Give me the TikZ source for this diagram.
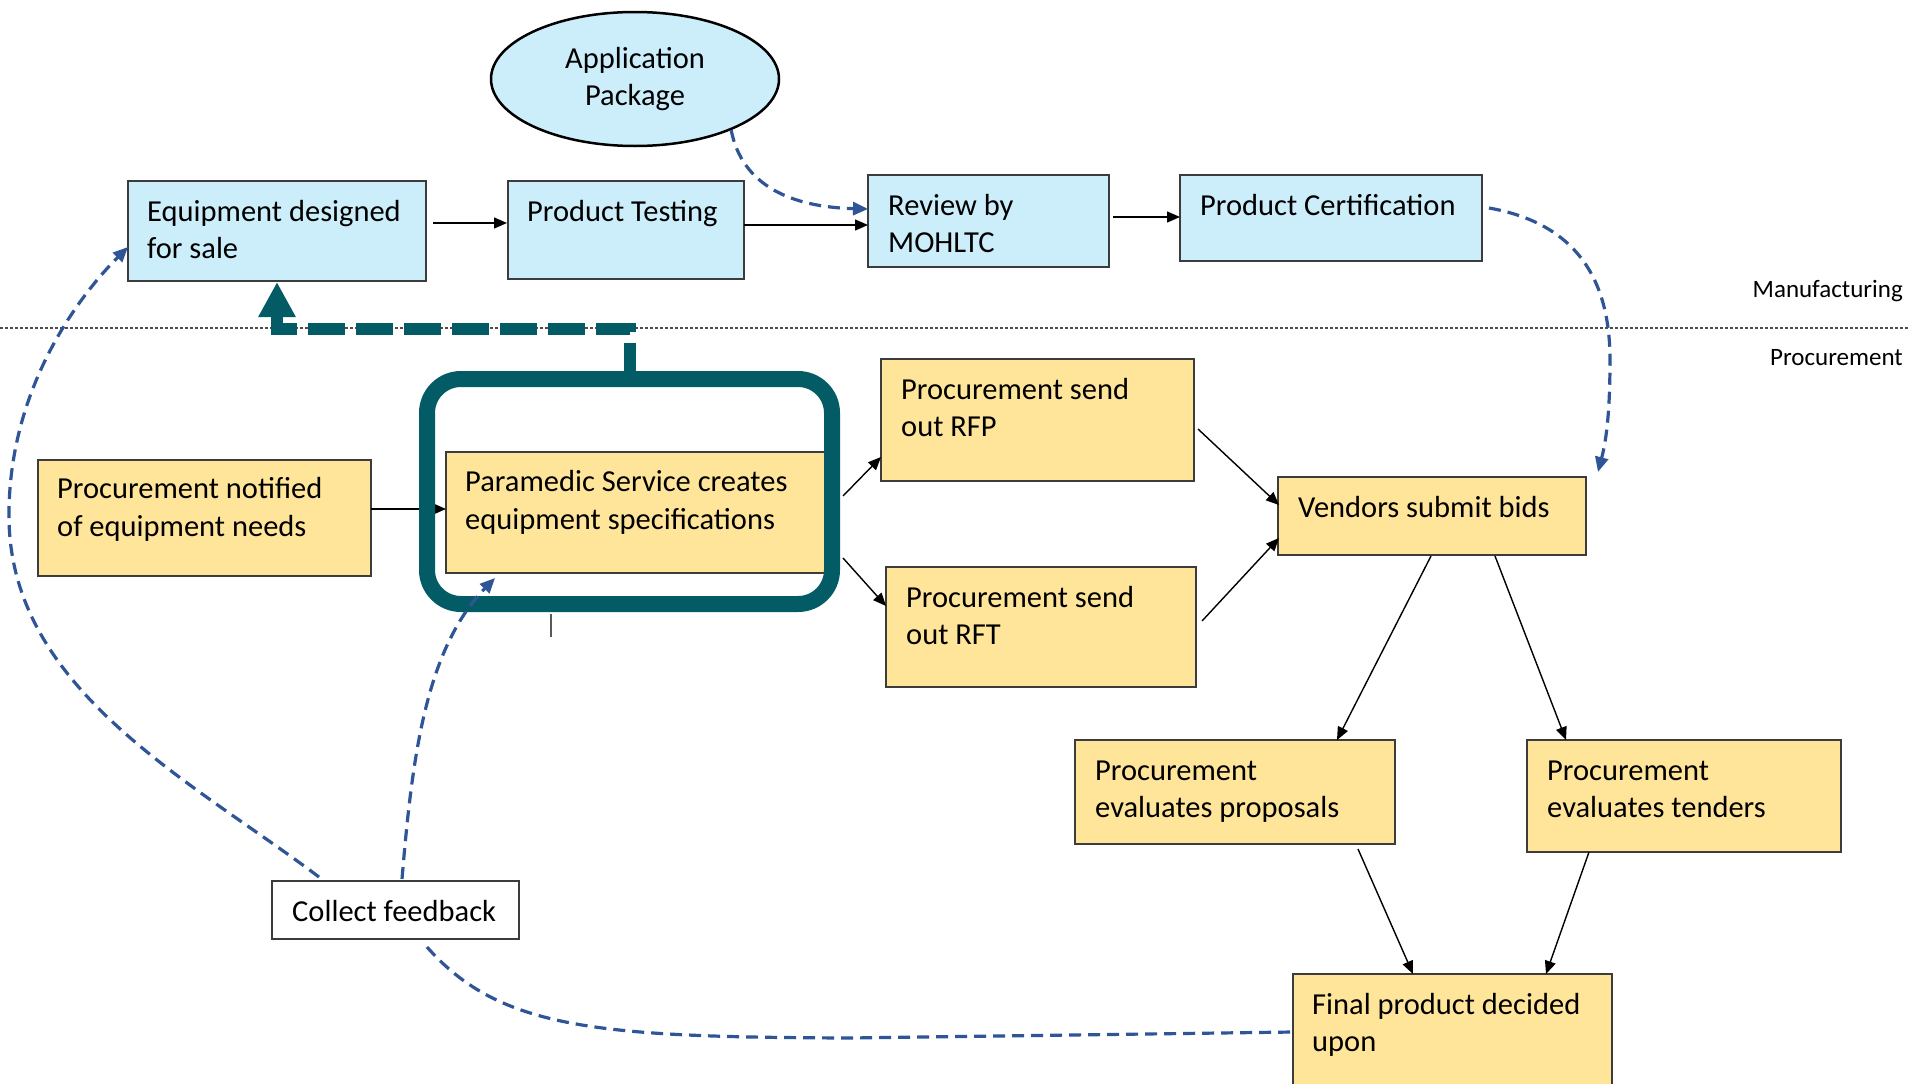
\documentclass[tikz,border=0pt]{standalone}
\usepackage{fontspec}
\setmainfont{Carlito}
\usetikzlibrary{arrows.meta,shapes.geometric,calc}
\definecolor{boxblue}{RGB}{204,238,250}
\definecolor{boxyellow}{RGB}{255,229,153}
\definecolor{tealc}{RGB}{3,91,101}
\definecolor{dashblue}{RGB}{47,85,151}
\definecolor{edgegray}{RGB}{60,60,60}
\begin{document}
\begin{tikzpicture}[x=1pt,y=-1pt,
  box/.style={draw=edgegray, line width=1.8pt, inner sep=0pt, outer sep=0pt, anchor=north west},
  bluebox/.style={box, fill=boxblue},
  yelbox/.style={box, fill=boxyellow},
  lbl/.style={anchor=base west, align=left, inner sep=0pt, font=\fontsize{30.5pt}{37.5pt}\selectfont},
  lane/.style={anchor=base east, inner sep=0pt, font=\fontsize{25pt}{30pt}\selectfont},
  arr/.style={line width=1.4pt, -{Triangle[length=13pt,width=11pt]}},
  fb/.style={dashblue, line width=3.2pt, dash pattern=on 12pt off 7pt},
  fbarr/.style={fb, -{Triangle[length=15pt,width=13pt]}},
]
\clip (0,0) rectangle (1909,1084);
\fill[white] (0,0) rectangle (1909,1084);

% lane separator
\draw[gray!60!black, line width=1.3pt, dash pattern=on 3pt off 2pt] (0,328) -- (1909,328);
\node[lane] (mlab) at (1903,297) {Manufacturing};
\node[lane] (plab) at (1903,365) {Procurement};

% manufacturing boxes
\node[ellipse, draw=black, line width=2.5pt, fill=boxblue, minimum width=288pt, minimum height=134pt,
      inner sep=0pt, align=center, font=\fontsize{30.5pt}{37.5pt}\selectfont] (app) at (635,79) {Application\\Package};
\node[bluebox, minimum width=298pt, minimum height=100pt] (eq) at (128,181) {};
\node[lbl] (eqT) at ($(eq.north west)+(19,77.5)$) {Equipment designed\\for sale};
\node[bluebox, minimum width=236pt, minimum height=98pt] (pt) at (508,181) {};
\node[lbl] (ptT) at ($(pt.north west)+(19,40)$) {Product Testing};
\node[bluebox, minimum width=241pt, minimum height=92pt] (rev) at (868,175) {};
\node[lbl] (revT) at ($(rev.north west)+(20,77.5)$) {Review by\\MOHLTC};
\node[bluebox, minimum width=302pt, minimum height=86pt] (cert) at (1180,175) {};
\node[lbl] (certT) at ($(cert.north west)+(20,40)$) {Product Certification};

% procurement boxes
\node[yelbox, minimum width=333pt, minimum height=116pt] (notif) at (38,460) {};
\node[lbl] (notifT) at ($(notif.north west)+(19,76)$) {Procurement notified\\of equipment needs};
\node[yelbox, minimum width=382pt, minimum height=121pt] (para) at (446,452) {};
\node[lbl] (paraT) at ($(para.north west)+(19,77)$) {Paramedic Service creates\\equipment specifications};
\node[yelbox, minimum width=313pt, minimum height=122pt] (rfp) at (881,359) {};
\node[lbl] (rfpT) at ($(rfp.north west)+(20,77.5)$) {Procurement send\\out RFP};
\node[yelbox, minimum width=310pt, minimum height=120pt] (rft) at (886,567) {};
\node[lbl] (rftT) at ($(rft.north west)+(20,77.5)$) {Procurement send\\out RFT};
\node[yelbox, minimum width=308pt, minimum height=78pt] (ven) at (1278,477) {};
\node[lbl] (venT) at ($(ven.north west)+(20,40)$) {Vendors submit bids};
\node[yelbox, minimum width=320pt, minimum height=104pt] (evp) at (1075,740) {};
\node[lbl] (evpT) at ($(evp.north west)+(20,77.5)$) {Procurement\\evaluates proposals};
\node[yelbox, minimum width=314pt, minimum height=112pt] (evt) at (1527,740) {};
\node[lbl] (evtT) at ($(evt.north west)+(20,77.5)$) {Procurement\\evaluates tenders};
\node[yelbox, minimum width=319pt, minimum height=140pt] (fin) at (1293,974) {};
\node[lbl] (finT) at ($(fin.north west)+(19,77.5)$) {Final product decided\\upon};
\node[box, fill=white, minimum width=247pt, minimum height=58pt] (cf) at (272,881) {};
\node[lbl] (cfT) at ($(cf.north west)+(20,40)$) {Collect feedback};

% solid connectors
\draw[arr] ($(eq.north east)+(7,42)$) -- ($(pt.north west)+(-1,42)$);
\draw[arr] ($(pt.north east)+(0,44)$) -- ($(rev.north west)+(0,50)$);
\draw[arr] ($(rev.north east)+(4,42)$) -- ($(cert.north west)+(0,42)$);
\draw[arr] ($(notif.north east)+(0,49)$) -- ($(para.north west)+(0,57)$);
\draw[arr] ($(para.north east)+(15,44)$) -- ($(rfp.north west)+(0,98)$);
\draw[arr] ($(para.north east)+(15,106)$) -- ($(rft.north west)+(0,39)$);
\draw[arr] ($(rfp.north east)+(4,70)$) -- ($(ven.north west)+(1,28)$);
\draw[arr] ($(rft.north east)+(6,54)$) -- ($(ven.north west)+(1,61)$);
\draw[arr] ($(ven.south west)+(153,1)$) -- ($(evp.north west)+(262,0)$);
\draw[arr] ($(ven.south west)+(217,1)$) -- ($(evt.north west)+(39,0)$);
\draw[arr] ($(evp.south west)+(283,5)$) -- ($(fin.north west)+(120,0)$);
\draw[arr] ($(evt.south west)+(62,0)$) -- ($(fin.north west)+(253,0)$);

% highlight frame
\node[draw=tealc, line width=16pt, rounded corners=34pt, minimum width=405pt, minimum height=225pt,
      inner sep=0pt, outer sep=8pt, anchor=north west] (hl) at (419,371) {};
\draw[gray!70!black, line width=1.2pt] ($(hl.south west)+(132,2)$) -- ++(0,23);
\draw[tealc, line width=12pt, dash pattern=on 37pt off 11pt, dash phase=9pt,
      -{Triangle[length=35pt,width=35pt]}]
  (hl.north) -- ++(0,-42) -| ($(eq.south west)+(149,1)$);

% dashed feedback connectors
\draw[fbarr] (app.-28) .. controls (742,185) and (790,207) .. ($(rev.north west)+(0,34)$);
\draw[fbarr] ($(cert.north east)+(7,33)$) .. controls (1585,225) and (1610,290) .. (1610,360)
  .. controls (1610,420) and (1605,445) .. ($(ven.north east)+(12,-5)$);
\draw[fbarr] ($(cf.north west)+(47,-4)$) .. controls (190,780) and (12,690) .. (9,520)
  .. controls (7,380) and (90,285) .. ($(eq.north west)+(0,66)$);
\draw[fbarr] ($(cf.north west)+(130,-2)$) .. controls (412,760) and (425,650) .. ($(para.south west)+(49,5)$);
\draw[fb] ($(cf.south west)+(155,8)$) .. controls (500,1030) and (600,1037) .. (850,1038)
  -- ($(fin.north west)+(0,58)$);
\end{tikzpicture}
\end{document}
